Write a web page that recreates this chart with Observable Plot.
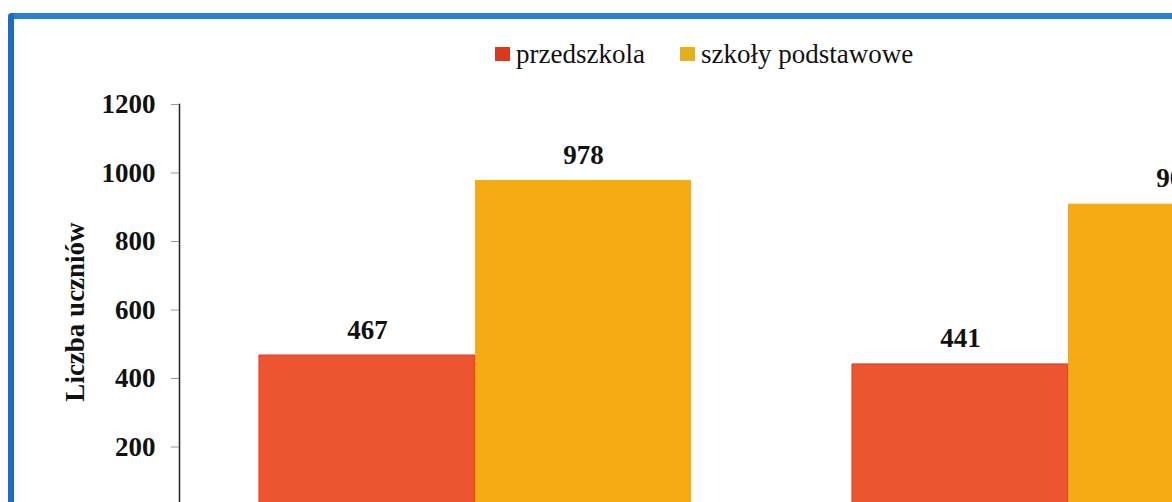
<!DOCTYPE html>
<html><head><meta charset="utf-8">
<script src="https://cdn.jsdelivr.net/npm/d3@7"></script>
<script src="https://cdn.jsdelivr.net/npm/@observablehq/plot@0.6"></script>
<style>
html,body{margin:0;padding:0;background:#fff;overflow:hidden;width:1172px;height:502px;}
#wrap{position:relative;width:1172px;height:502px;overflow:hidden;background:#fff;}
#chart{position:absolute;left:0;top:0;width:1400px;height:560px;}
#chart svg{max-width:none !important;width:1400px;height:560px;}
#topline{position:absolute;left:8px;top:13px;width:1164px;height:6px;background:#2a80d2;border-top-left-radius:4px;}
#leftline{position:absolute;left:8px;top:13px;width:6px;height:489px;background:#1a6cc6;border-top-left-radius:4px;}
#legend{position:absolute;top:38px;left:495px;display:flex;align-items:center;font-family:"Liberation Serif","Times New Roman",serif;font-size:27px;color:#111;line-height:32px;}
.item{display:flex;align-items:center;margin-right:35px;}
.sw{width:15px;height:14px;margin-right:6px;}
</style></head><body>
<div id="wrap"><div id="chart"></div><div id="legend"></div><div id="topline"></div><div id="leftline"></div></div>
<script>
// ---- data ----
const groups = ["grupa 1", "grupa 2"];
const series = ["przedszkola", "szkoły podstawowe"];
const przedszkola = [467, 441];
const szkolyPodstawowe = [978, 909];
const yTicks = [200, 400, 600, 800, 1000, 1200];
const yLabel = "Liczba uczniów";
const colors = ["#ec5530", "#f6aa14"];
const swatchColors = ["#d8391f", "#e2b01c"];

const values = [przedszkola, szkolyPodstawowe];
const rows = groups.flatMap((g, i) => series.map((s, j) => ({group: g, series: s, value: values[j][i]})));

// ---- layout ----
const W = 1400, H = 560, ML = 179, MR = 35, MT = 104, MB = 45;
const padIn = 0.2715, padOut = padIn / 2;
const step = (W - ML - MR) / groups.length;
const bw = step * (1 - padIn);
const half = bw / 2;
const font = '"Liberation Serif","Times New Roman",serif';

const chart = Plot.plot({
  width: W, height: H,
  marginLeft: ML, marginRight: MR, marginTop: MT, marginBottom: MB,
  style: {background: "transparent", fontFamily: font, overflow: "visible", maxWidth: "none"},
  x: {domain: groups, paddingInner: padIn, paddingOuter: padOut, axis: null},
  y: {domain: [0, 1200], axis: null},
  marks: [
    Plot.barY(rows.filter(d => d.series === series[0]), {x: "group", y: "value", fill: colors[0], stroke: "#e0301a", strokeWidth: 1, insetRight: half}),
    Plot.barY(rows.filter(d => d.series === series[1]), {x: "group", y: "value", fill: colors[1], insetLeft: half}),
    Plot.text(rows.filter(d => d.series === series[0]), {x: "group", y: "value", text: d => String(d.value), dx: -half / 2, dy: -17, lineAnchor: "bottom", fontSize: 27, fontWeight: "bold", fontFamily: font, fill: "#111"}),
    Plot.text(rows.filter(d => d.series === series[1]), {x: "group", y: "value", text: d => String(d.value), dx: half / 2, dy: -17, lineAnchor: "bottom", fontSize: 27, fontWeight: "bold", fontFamily: font, fill: "#111"}),
    Plot.frame({anchor: "left", stroke: "#222", strokeWidth: 1.5}),
    Plot.axisY({ticks: yTicks, tickFormat: "d", tickSize: 8, tickPadding: 16, stroke: "#999", fill: "#111", fontSize: 27, fontWeight: "bold", fontFamily: font, label: null}),
    Plot.text([yLabel], {frameAnchor: "left", text: d => d, dx: -104, dy: 2, rotate: -90, textAnchor: "middle", lineAnchor: "middle", fontSize: 27, fontWeight: "bold", fontFamily: font, fill: "#111"})
  ]
});
document.getElementById("chart").appendChild(chart);

// legend
const leg = document.getElementById("legend");
series.forEach((s, i) => {
  const it = document.createElement("div"); it.className = "item";
  const sw = document.createElement("div"); sw.className = "sw"; sw.style.background = swatchColors[i];
  const t = document.createElement("span"); t.textContent = s;
  it.appendChild(sw); it.appendChild(t); leg.appendChild(it);
});
</script>
</body></html>
